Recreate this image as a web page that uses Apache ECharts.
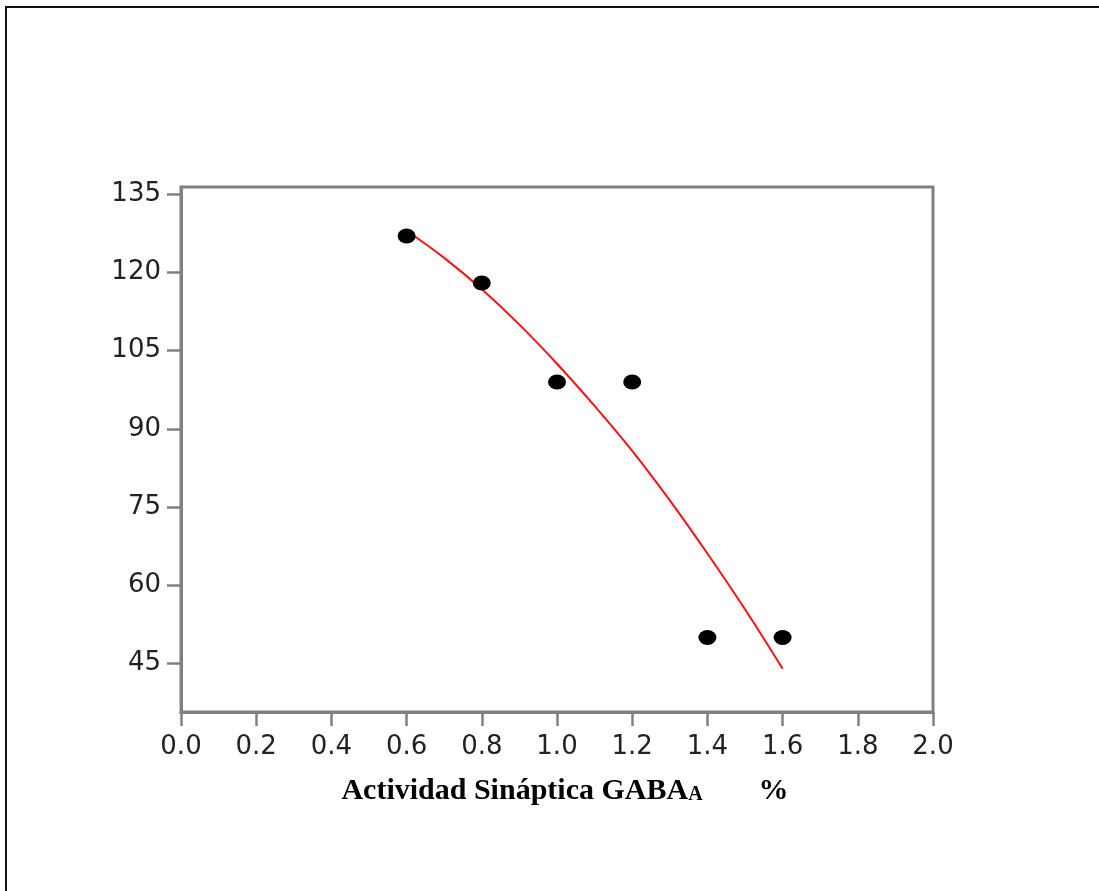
<!DOCTYPE html>
<html>
<head>
<meta charset="utf-8">
<script src="https://cdn.jsdelivr.net/npm/echarts@6/dist/echarts.min.js"></script>
<style>
html,body{margin:0;padding:0;background:#fff;}
#frame{position:absolute;left:5px;top:6px;width:1094px;height:885px;border-top:2px solid #111;border-left:2px solid #111;box-sizing:border-box;pointer-events:none;z-index:2;}
#chart{position:absolute;left:0;top:0;width:1099px;height:891px;}
</style>
</head>
<body>
<div id="chart"></div>
<div id="frame"></div>
<script>
// Observed points
const pointX = [0.6, 0.8, 1.0, 1.2, 1.4, 1.6];
const pointY = [127, 118, 99, 99, 50, 50];
// Red fitted curve
const curveX = [0.6, 0.7, 0.8, 0.9, 1.0, 1.1, 1.2, 1.3, 1.4, 1.5, 1.6];
const curveY = [128, 122.8, 116.8, 110, 102.5, 94.4, 85.8, 76.3, 66.1, 55.4, 44];
// Axis ticks
const yTicks = [45, 60, 75, 90, 105, 120, 135];
const xTickLabels = ['0.0','0.2','0.4','0.6','0.8','1.0','1.2','1.4','1.6','1.8','2.0'];

const chart = echarts.init(document.getElementById('chart'), null, {renderer: 'canvas'});
const axisGray = '#808080';
const labelFont = {fontFamily: 'DejaVu Sans', fontSize: 26, color: '#222'};

chart.setOption({
  animation: false,
  backgroundColor: '#fff',
  grid: {
    left: 181, right: 166, top: 187, bottom: 179,
    show: true, borderColor: axisGray, borderWidth: 3, backgroundColor: 'transparent'
  },
  xAxis: {
    type: 'value',
    min: 0, max: 2, interval: 0.2,
    axisLine: {show: true, onZero: false, lineStyle: {color: axisGray, width: 3}},
    axisTick: {show: true, inside: false, length: 14, lineStyle: {color: axisGray, width: 2.5}},
    splitLine: {show: false},
    axisLabel: Object.assign({
      margin: 22,
      formatter: function (v) {
        const i = Math.round(v / 0.2);
        return xTickLabels[i] !== undefined ? xTickLabels[i] : v.toFixed(1);
      }
    }, labelFont),
    name: '{a|Actividad Sináptica GABA}{s|A}{g|}{a|%}',
    nameLocation: 'middle',
    nameGap: 60,
    nameTextStyle: {
      padding: [0, 0, 0, 16],
      rich: {
        a: {fontFamily: 'Liberation Serif', fontWeight: 'bold', fontSize: 30, color: '#000', verticalAlign: 'bottom', lineHeight: 34},
        s: {fontFamily: 'Liberation Serif', fontWeight: 'bold', fontSize: 20, color: '#000', verticalAlign: 'bottom', lineHeight: 30, padding: [0,0,1,0]},
        g: {width: 56}
      }
    }
  },
  yAxis: {
    type: 'value',
    min: 35.7, max: 136.4,
    axisLine: {show: true, onZero: false, lineStyle: {color: axisGray, width: 3}},
    axisTick: {show: true, inside: false, length: 14, customValues: yTicks, lineStyle: {color: axisGray, width: 2.5}},
    splitLine: {show: false},
    axisLabel: Object.assign({margin: 20, customValues: yTicks}, labelFont)
  },
  series: [
    {
      type: 'line',
      data: curveX.map((x, i) => [x, curveY[i]]),
      smooth: 0.4,
      showSymbol: false,
      symbol: 'none',
      lineStyle: {color: '#ff1010', width: 2},
      z: 3
    },
    {
      type: 'scatter',
      data: pointX.map((x, i) => [x, pointY[i]]),
      symbol: 'circle',
      symbolSize: [18, 15],
      itemStyle: {color: '#000', opacity: 1},
      z: 4
    }
  ]
});
</script>
</body>
</html>
